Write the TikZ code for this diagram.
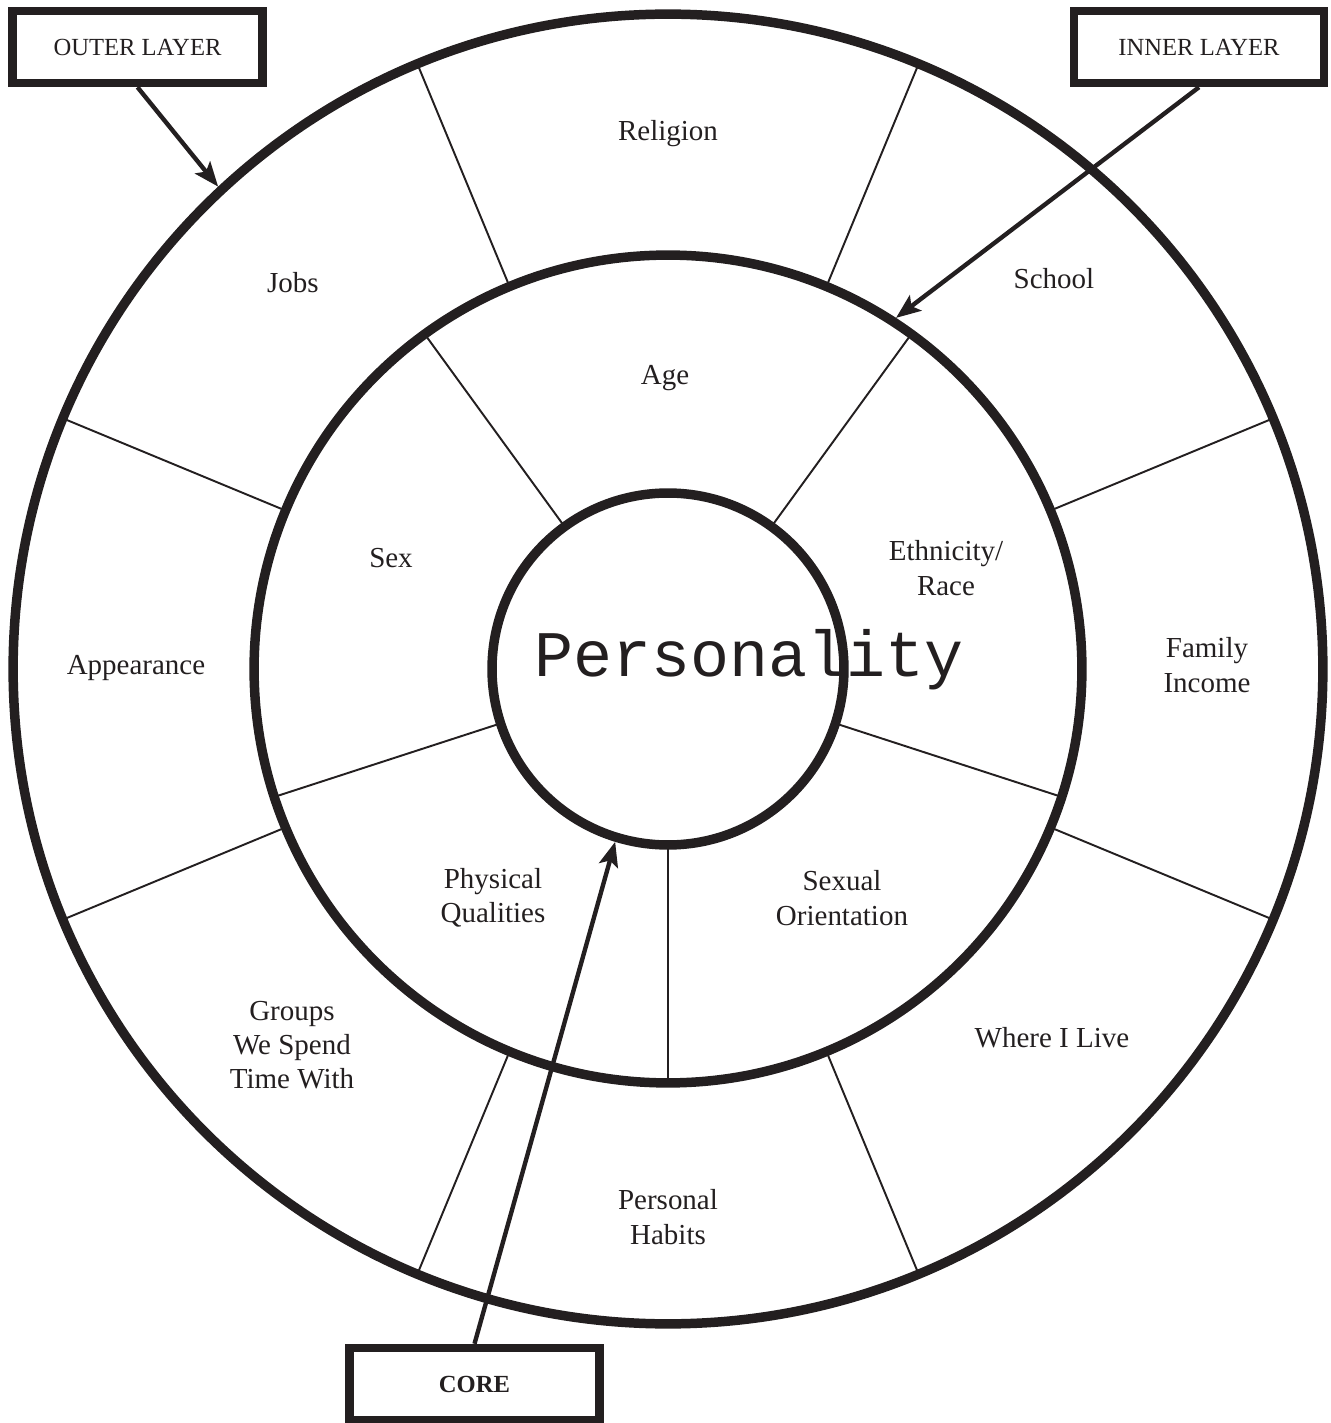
\documentclass[tikz,border=0pt]{standalone}
\usepackage{fontspec}
\setmainfont{Liberation Serif}
\newfontfamily\typewriter{Liberation Mono}
\usepackage{xcolor}
\usetikzlibrary{arrows.meta}
\definecolor{ink}{HTML}{231F20}
\tikzset{
pointer/.style={draw=ink, line width=2.5pt,
    -{Stealth[length=14pt, width=11pt, inset=3pt]}
    }}

\begin{document}
\begin{tikzpicture}[x=0.02cm, y=0.02cm]
		\tikzset{ring/.style = {shape=circle, draw=ink, line width=5.4pt, inner sep=0pt}}
		\tikzset{divider/.style = {draw=ink, line width=1.1pt}}
		\tikzset{sector/.style = {text=ink, align=center, font=\fontsize{16.5}{19.5}\selectfont}}
		\tikzset{layerbox/.style = {draw=ink, fill=white, line width=4.8pt, text=ink,
			minimum width=5cm, minimum height=1.44cm, font=\fontsize{14}{16}\selectfont}}

		\useasboundingbox (-668,-754) rectangle (662,669);

		\node[ring, minimum size=26.2cm] (outer) at (0,0) {};
		\node[ring, minimum size=16.56cm] (inner) at (0,0) {};
		\node[ring, minimum size=7.04cm] (core) at (0,0) {};

		% outer layer
		\draw[divider] (22.5:414) -- (22.5:655);
		\draw[divider] (67.5:414) -- (67.5:655);
		\draw[divider] (112.5:414) -- (112.5:655);
		\draw[divider] (157.5:414) -- (157.5:655);
		\draw[divider] (202.5:414) -- (202.5:655);
		\draw[divider] (247.5:414) -- (247.5:655);
		\draw[divider] (292.5:414) -- (292.5:655);
		\draw[divider] (337.5:414) -- (337.5:655);

		% inner layer
		\draw[divider] (54:176) -- (54:414);
		\draw[divider] (126:176) -- (126:414);
		\draw[divider] (198:176) -- (198:414);
		\draw[divider] (270:176) -- (270:414);
		\draw[divider] (342:176) -- (342:414);

		\node[sector] (religion) at (0,535) {Religion};
		\node[sector] (school) at (386,390) {School};
		\node[sector] (income) at (539,4) {Family\\Income};
		\node[sector] (live) at (384,-369) {Where I Live};
		\node[sector] (habits) at (0,-548) {Personal\\Habits};
		\node[sector] (groups) at (-376,-376) {Groups\\We Spend\\Time With};
		\node[sector] (appearance) at (-532,1) {Appearance};
		\node[sector] (jobs) at (-375,386) {Jobs};

		\node[sector] (age) at (-3,291) {Age};
		\node[sector] (ethnicity) at (278,101) {Ethnicity/\\Race};
		\node[sector] (orientation) at (174,-229) {Sexual\\Orientation};
		\node[sector] (physical) at (-175,-229) {Physical\\Qualities};
		\node[sector] (sex) at (-277,111) {Sex};

		\node[text=ink, anchor=base, font=\typewriter\fontsize{37}{40}\selectfont] (personality) at (81,-8) {Personality};

		\node[layerbox] (outerbox) at (-530.5,622) {OUTER LAYER};
		\node[layerbox] (innerbox) at (531,622) {INNER LAYER};
		\node[layerbox, font=\fontsize{14}{16}\selectfont\bfseries] (corebox) at (-193.5,-715) {CORE};

		\draw[pointer] (outerbox.south) to (outer.133.5);
		\draw[pointer] (innerbox.south) to (inner.57);
		\draw[pointer] (corebox.north) to (core.253);
	\end{tikzpicture}
\end{document}
